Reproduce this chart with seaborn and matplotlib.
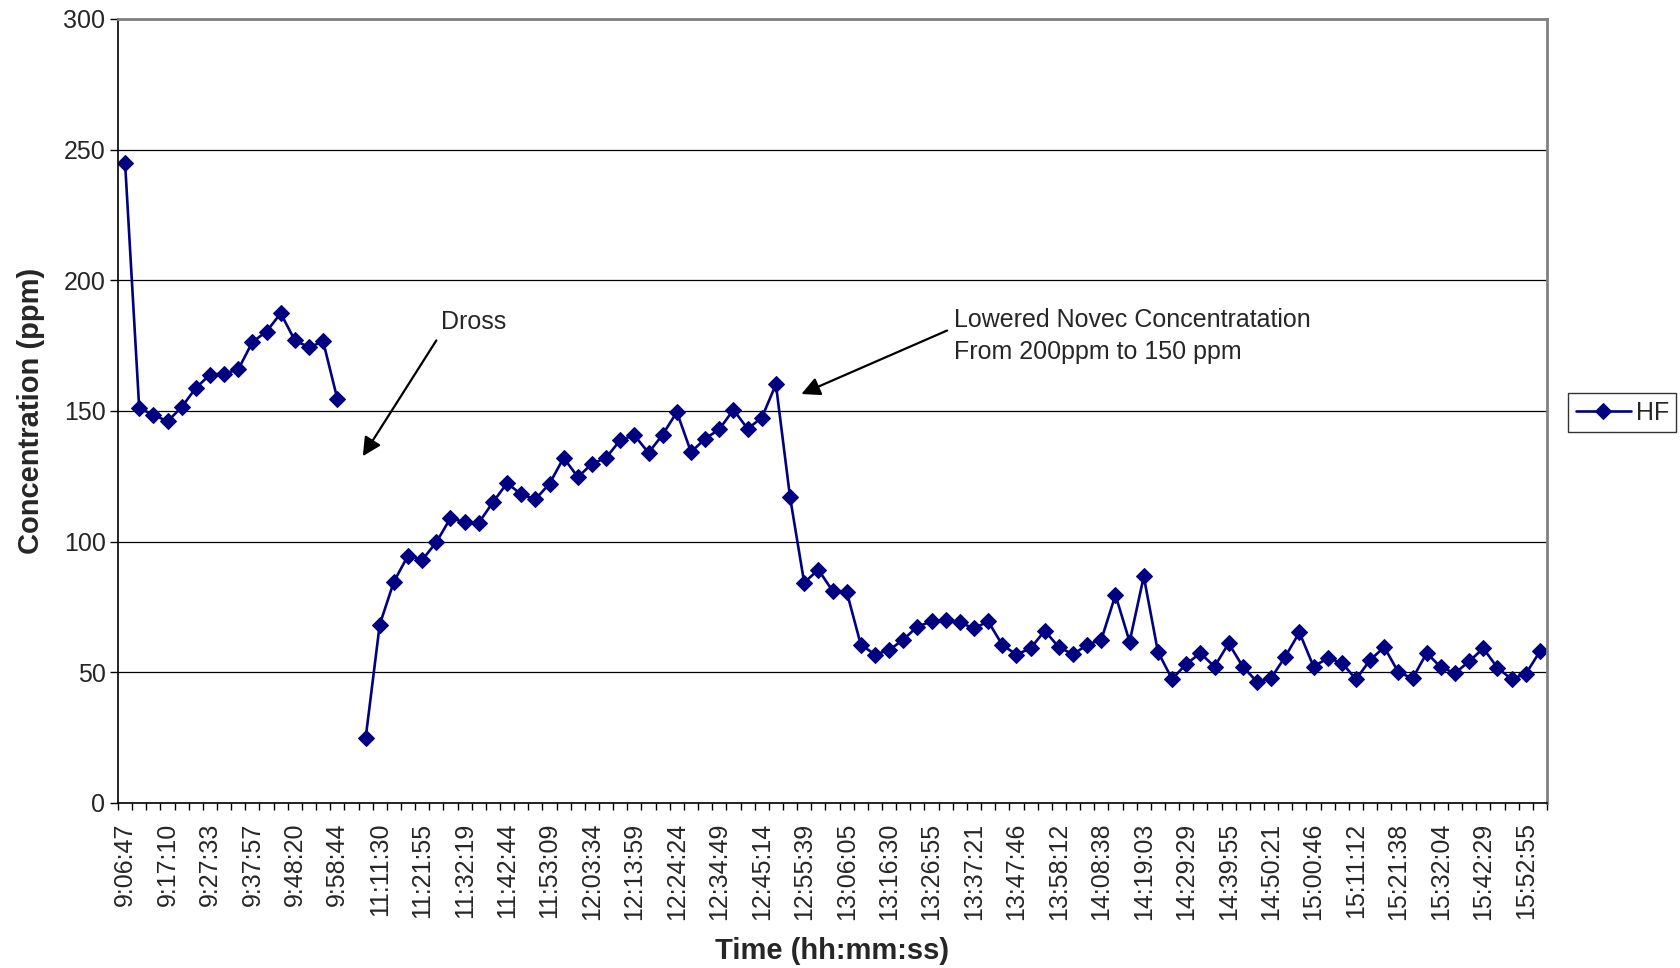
import numpy as np
import pandas as pd
import matplotlib
matplotlib.use("Agg")
import matplotlib.pyplot as plt
import seaborn as sns
from matplotlib.ticker import FixedLocator

# --- Data (HF readings, one per sample; None = no reading) ---
HF_PPM = [
    245, 151, 148.6, 146, 151.5, 158.8, 163.9, 164.3, 165.9, 176.4,
    180.4, 187.4, 177, 174.4, 176.6, 154.7, None, 24.7, 68.3, 84.7,
    94.7, 93, 99.8, 109, 107.5, 107.2, 115.1, 122.4, 118.1, 116.2,
    122.2, 132.1, 124.7, 129.8, 132.1, 138.9, 140.7, 134.0, 141.0, 149.6,
    134.3, 139.4, 143.0, 150.5, 143.2, 147.4, 160.2, 117.0, 84.3, 89.3,
    81.2, 80.9, 60.6, 56.8, 58.5, 62.5, 67.5, 69.5, 70.0, 69.1,
    66.8, 69.5, 60.5, 56.8, 59.2, 65.9, 59.6, 56.9, 60.5, 62.5,
    79.6, 61.7, 86.7, 57.9, 47.4, 53.2, 57.3, 52.2, 61.1, 52.2,
    46.4, 47.8, 56.0, 65.3, 52.2, 55.4, 53.7, 47.3, 54.8, 59.6,
    50.0, 47.7, 57.4, 51.9, 49.7, 54.2, 59.2, 51.7, 47.4, 49.4,
    58.0,
]

# tick labels, every third sample starting at the first
TIME_LABELS = [
    "9:06:47", "9:17:10", "9:27:33", "9:37:57", "9:48:20", "9:58:44",
    "11:11:30", "11:21:55", "11:32:19", "11:42:44", "11:53:09", "12:03:34",
    "12:13:59", "12:24:24", "12:34:49", "12:45:14", "12:55:39", "13:06:05",
    "13:16:30", "13:26:55", "13:37:21", "13:47:46", "13:58:12", "14:08:38",
    "14:19:03", "14:29:29", "14:39:55", "14:50:21", "15:00:46", "15:11:12",
    "15:21:38", "15:32:04", "15:42:29", "15:52:55",
]
LABEL_STEP = 3

Y_TICKS = [0, 50, 100, 150, 200, 250, 300]

# --- Style ---
NAVY = "#000080"
GREY = "#808080"
FS = 18

sns.set_style("white")
plt.rcParams["font.family"] = ["Liberation Sans", "DejaVu Sans"]


def build_frame():
    df = pd.DataFrame({"hf": pd.to_numeric(pd.Series(HF_PPM), errors="coerce")})
    df["sample"] = np.arange(len(df))
    # a break in the record starts a new line segment
    df["segment"] = df["hf"].isna().cumsum()
    return df.dropna()


def main():
    df = build_frame()
    n = len(HF_PPM)

    fig = plt.figure(figsize=(16.8, 9.68), dpi=100)
    ax = fig.add_axes([118 / 1680, 1 - 803 / 968, (1547 - 118) / 1680, (803 - 19) / 968])

    sns.lineplot(data=df, x="sample", y="hf", units="segment", estimator=None,
                 color=NAVY, linewidth=1.9, marker="D", markersize=7.8,
                 markeredgecolor=NAVY, ax=ax)

    ax.set_xlim(-0.5, n - 0.5)
    ax.set_ylim(0, 300)

    # category axis: labels at sample centres, tick marks between samples
    label_pos = np.arange(0, len(TIME_LABELS) * LABEL_STEP, LABEL_STEP)
    ax.xaxis.set_major_locator(FixedLocator(label_pos))
    ax.set_xticklabels(TIME_LABELS, rotation=90, fontsize=FS)
    ax.xaxis.set_minor_locator(FixedLocator(np.arange(n + 1) - 0.5))
    ax.tick_params(axis="x", which="major", length=0, pad=14)
    ax.tick_params(axis="x", which="minor", bottom=True, length=5, width=1, color="black", direction="out")

    ax.set_yticks(Y_TICKS)
    ax.set_yticklabels([str(v) for v in Y_TICKS], fontsize=FS)
    ax.tick_params(axis="y", left=True, length=6, width=1, color="black", direction="out", pad=3)

    ax.yaxis.grid(True, color="black", linewidth=0.9)
    ax.xaxis.grid(False)
    ax.set_axisbelow(True)

    for side in ["left", "bottom"]:
        ax.spines[side].set_color("black")
        ax.spines[side].set_linewidth(1.2)
    for side in ["top", "right"]:
        ax.spines[side].set_color(GREY)
        ax.spines[side].set_linewidth(2)

    ax.set_xlabel("Time (hh:mm:ss)", fontsize=21, fontweight="bold", labelpad=12)
    ax.set_ylabel("Concentration (ppm)", fontsize=21, fontweight="bold", labelpad=13)

    # annotations
    arrow = dict(arrowstyle="-|>", color="black", lw=1.6, mutation_scale=28, shrinkA=0, shrinkB=0)
    ax.annotate("", xy=(16.8, 132.7), xytext=(22.0, 177.0), arrowprops=arrow)
    ax.text(24.6, 184.0, "Dross", fontsize=FS, ha="center", va="center")
    ax.annotate("", xy=(47.8, 156.5), xytext=(58.1, 180.8), arrowprops=arrow)
    ax.text(58.6, 178.8, "Lowered Novec Concentratation\nFrom 200ppm to 150 ppm",
            fontsize=FS, ha="left", va="center", linespacing=1.42)

    leg = fig.legend(handles=[ax.lines[0]], labels=["HF"], loc="center left",
                     bbox_to_anchor=(1568 / 1680, 1 - 412.5 / 968), fontsize=FS,
                     frameon=True, fancybox=False, borderpad=0.3,
                     handlelength=2.2, handletextpad=0.2, borderaxespad=0)
    leg.get_frame().set_edgecolor("black")
    leg.get_frame().set_linewidth(1.0)

    fig.savefig("out.png", dpi=100)
    plt.close(fig)


if __name__ == "__main__":
    main()
